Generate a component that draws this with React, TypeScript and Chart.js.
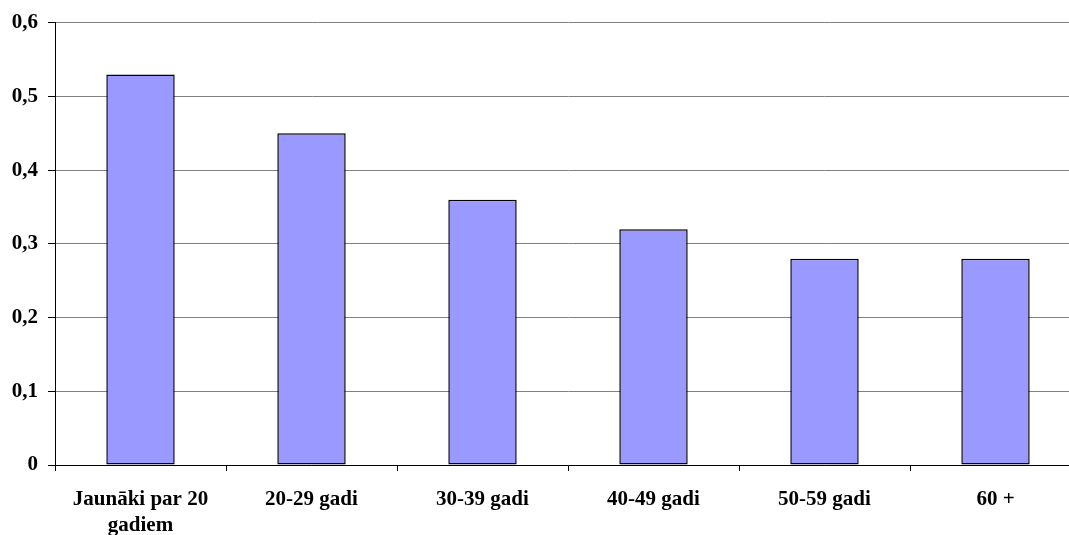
import React, { useEffect, useRef } from "react";
import { Chart, registerables } from "chart.js";

Chart.register(...registerables);

const categories: (string | string[])[] = [
  ["Jaunāki par 20", "gadiem"],
  "20-29 gadi",
  "30-39 gadi",
  "40-49 gadi",
  "50-59 gadi",
  "60 +",
];
const values: number[] = [0.53, 0.45, 0.36, 0.32, 0.28, 0.28];
const yTicks: number[] = [0, 0.1, 0.2, 0.3, 0.4, 0.5, 0.6];

const FONT = { family: "'Liberation Serif', 'Times New Roman', serif", size: 21, weight: "bold" as const, lineHeight: 1.22 };

export default function App() {
  const ref = useRef<HTMLCanvasElement>(null);
  useEffect(() => {
    if (!ref.current) return;
    const chart = new Chart(ref.current, {
      type: "bar",
      data: {
        labels: categories,
        datasets: [
          {
            data: values,
            backgroundColor: "#9999FF",
            borderColor: "#000000",
            borderWidth: 1.5,
            borderSkipped: false,
            barPercentage: 0.4,
            categoryPercentage: 1,
          },
        ],
      },
      options: {
        responsive: false,
        animation: false,
        devicePixelRatio: 1,
        layout: { padding: { top: 20, right: 9, left: 0, bottom: 0 } },
        plugins: { legend: { display: false }, tooltip: { enabled: false } },
        scales: {
          x: {
            offset: true,
            grid: {
              offset: true,
              drawOnChartArea: false,
              drawTicks: true,
              tickLength: 6,
              color: "#000000",
            },
            border: { color: "#000000", width: 1 },
            ticks: {
              color: "#000000",
              font: FONT,
              padding: 16,
              maxRotation: 0,
              autoSkip: false,
            },
            afterFit: (s: any) => {
              s.height = 70;
            },
          },
          y: {
            min: 0,
            max: 0.6,
            afterBuildTicks: (s: any) => {
              s.ticks = yTicks.map((v) => ({ value: v }));
            },
            grid: {
              color: "#808080",
              tickColor: "#000000",
              tickLength: 7,
              drawTicks: true,
            },
            border: { color: "#000000", width: 1 },
            ticks: {
              color: "#000000",
              font: FONT,
              padding: 10,
              callback: (v: any) => (v === 0 ? "0" : Number(v).toFixed(1).replace(".", ",")),
            },
            afterFit: (s: any) => {
              s.width = 55;
            },
          },
        },
      },
    });
    return () => chart.destroy();
  }, []);
  return (
    <div style={{ position: "absolute", left: 0, top: 0, width: 1069, height: 535, overflow: "hidden", background: "#fff" }}>
      <canvas ref={ref} width={1090} height={535} style={{ display: "block", width: 1090, height: 535 }} />
    </div>
  );
}
